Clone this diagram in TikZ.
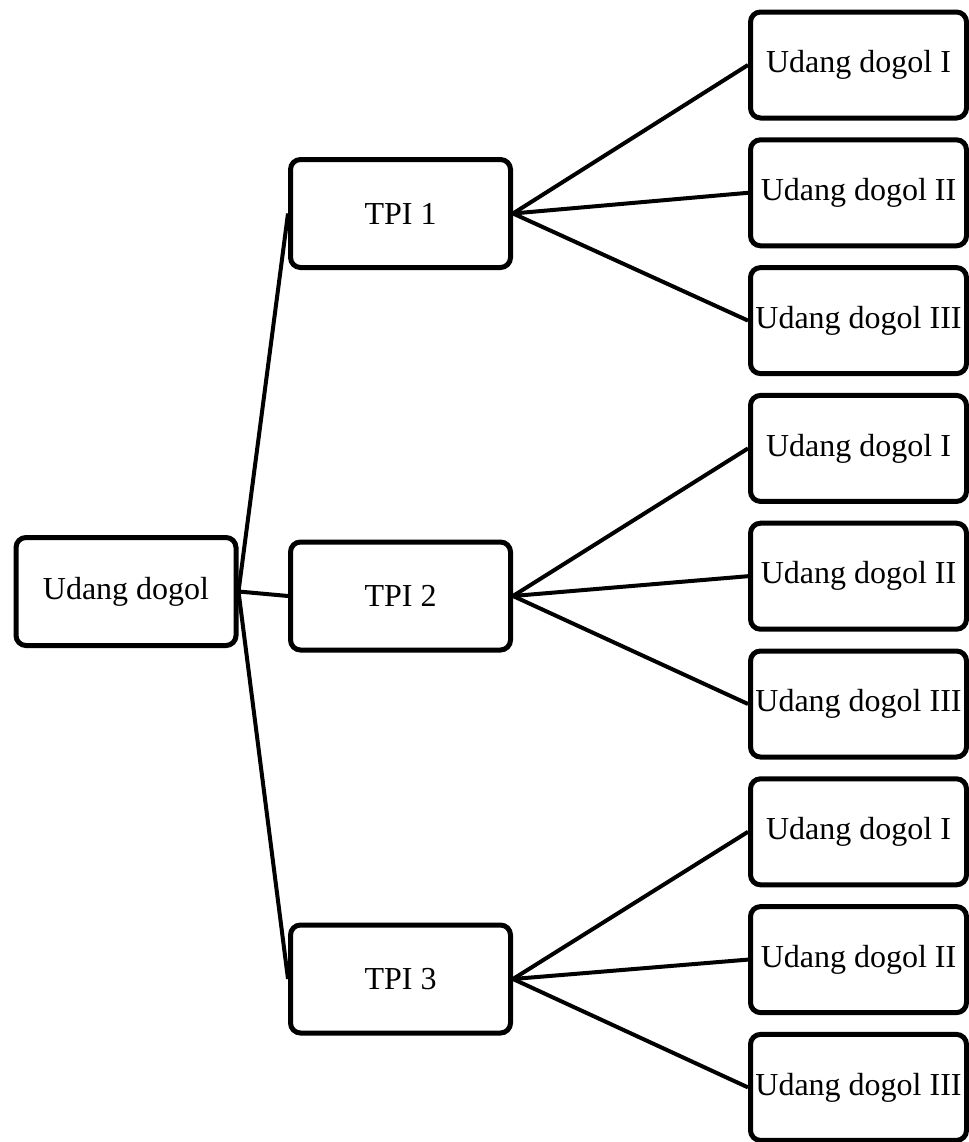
\documentclass[tikz,border=0pt]{standalone}
\usepackage{fontspec}
\setmainfont{Liberation Serif}
\usetikzlibrary{positioning}

\begin{document}
\begin{tikzpicture}[
        x=0.75pt, y=-0.75pt,
        node distance=12.6pt,
        box/.style={rectangle, draw, line width=3.75pt, rounded corners=7.5pt, minimum width=165pt, minimum height=81pt, inner sep=0pt, align=center, font=\fontsize{24}{28}\selectfont},
        leaf/.style={box, minimum width=162pt, minimum height=79.5pt},
        link/.style={line width=3pt}
    ]
        \useasboundingbox (0,0) rectangle (969,1142);
        \node[box] (root) at (126,591.5) {Udang dogol};
        \node[box] (tpi1) at (400.5,213.5) {TPI 1};
        \node[box] (tpi2) at (400.5,596) {TPI 2};
        \node[box] (tpi3) at (400.5,979) {TPI 3};

        \node[leaf] (a1) at (858.5,65) {Udang dogol I};
        \node[leaf, below=of a1] (a2) {Udang dogol II};
        \node[leaf, below=of a2] (a3) {Udang dogol III};
        \node[leaf, below=of a3] (b1) {Udang dogol I};
        \node[leaf, below=of b1] (b2) {Udang dogol II};
        \node[leaf, below=of b2] (b3) {Udang dogol III};
        \node[leaf, below=of b3] (c1) {Udang dogol I};
        \node[leaf, below=of c1] (c2) {Udang dogol II};
        \node[leaf, below=of c2] (c3) {Udang dogol III};

        \draw[link] (root.east) -- (tpi1.west);
        \draw[link] (root.east) -- (tpi2.west);
        \draw[link] (root.east) -- (tpi3.west);

        \draw[link] (tpi1.east) -- (a1.west);
        \draw[link] (tpi1.east) -- (a2.west);
        \draw[link] (tpi1.east) -- (a3.west);
        \draw[link] (tpi2.east) -- (b1.west);
        \draw[link] (tpi2.east) -- (b2.west);
        \draw[link] (tpi2.east) -- (b3.west);
        \draw[link] (tpi3.east) -- (c1.west);
        \draw[link] (tpi3.east) -- (c2.west);
        \draw[link] (tpi3.east) -- (c3.west);
    \end{tikzpicture}
\end{document}
